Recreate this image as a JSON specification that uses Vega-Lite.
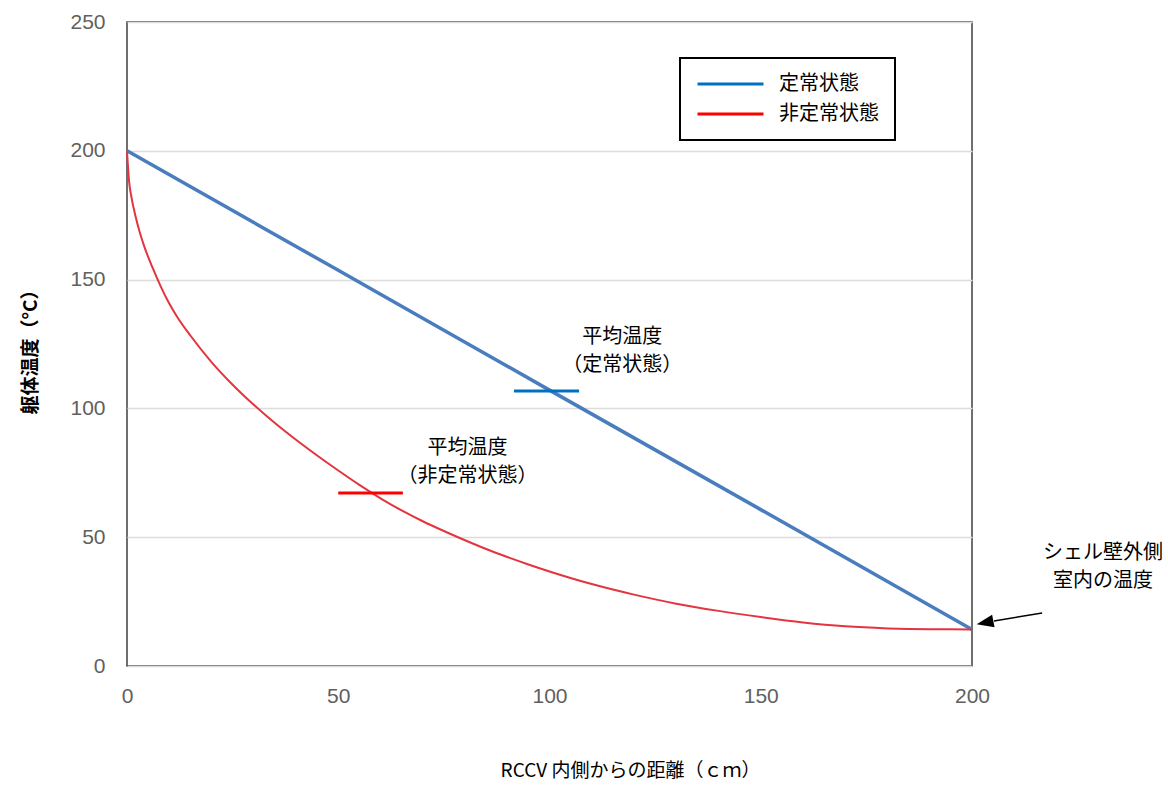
{
  "$schema": "https://vega.github.io/schema/vega-lite/v6.json",
  "width": 845,
  "height": 644,
  "autosize": {"type": "none"},
  "padding": {"left": 127, "top": 22, "right": 196, "bottom": 121},
  "background": "white",
  "config": {
    "view": {"stroke": "#404040", "strokeWidth": 1.5},
    "font": "Noto Sans CJK JP"
  },
  "datasets": {
    "curves": [
      {"series": "定常状態", "distance": 0, "temp": 200},
      {"series": "定常状態", "distance": 50, "temp": 153.6},
      {"series": "定常状態", "distance": 100, "temp": 107.1},
      {"series": "定常状態", "distance": 150, "temp": 60.7},
      {"series": "定常状態", "distance": 200, "temp": 14.2},
      {"series": "非定常状態", "distance": 0, "temp": 200},
      {"series": "非定常状態", "distance": 0.5, "temp": 188},
      {"series": "非定常状態", "distance": 1, "temp": 182.5},
      {"series": "非定常状態", "distance": 2, "temp": 174.7},
      {"series": "非定常状態", "distance": 3, "temp": 168.5},
      {"series": "非定常状態", "distance": 4, "temp": 163.3},
      {"series": "非定常状態", "distance": 6, "temp": 154.8},
      {"series": "非定常状態", "distance": 8, "temp": 147.3},
      {"series": "非定常状態", "distance": 10, "temp": 140.7},
      {"series": "非定常状態", "distance": 12, "temp": 135.2},
      {"series": "非定常状態", "distance": 15, "temp": 128.3},
      {"series": "非定常状態", "distance": 20, "temp": 118},
      {"series": "非定常状態", "distance": 25, "temp": 109.2},
      {"series": "非定常状態", "distance": 30, "temp": 101.4},
      {"series": "非定常状態", "distance": 35, "temp": 94.3},
      {"series": "非定常状態", "distance": 40, "temp": 87.8},
      {"series": "非定常状態", "distance": 45, "temp": 81.7},
      {"series": "非定常状態", "distance": 50, "temp": 75.9},
      {"series": "非定常状態", "distance": 55, "temp": 70.3},
      {"series": "非定常状態", "distance": 60, "temp": 65.1},
      {"series": "非定常状態", "distance": 65, "temp": 60.4},
      {"series": "非定常状態", "distance": 70, "temp": 56.2},
      {"series": "非定常状態", "distance": 75, "temp": 52.4},
      {"series": "非定常状態", "distance": 80, "temp": 48.8},
      {"series": "非定常状態", "distance": 85, "temp": 45.4},
      {"series": "非定常状態", "distance": 90, "temp": 42.3},
      {"series": "非定常状態", "distance": 95, "temp": 39.4},
      {"series": "非定常状態", "distance": 100, "temp": 36.7},
      {"series": "非定常状態", "distance": 110, "temp": 31.8},
      {"series": "非定常状態", "distance": 120, "temp": 27.7},
      {"series": "非定常状態", "distance": 130, "temp": 24.2},
      {"series": "非定常状態", "distance": 140, "temp": 21.4},
      {"series": "非定常状態", "distance": 150, "temp": 19.0},
      {"series": "非定常状態", "distance": 160, "temp": 16.9},
      {"series": "非定常状態", "distance": 170, "temp": 15.4},
      {"series": "非定常状態", "distance": 180, "temp": 14.6},
      {"series": "非定常状態", "distance": 190, "temp": 14.25},
      {"series": "非定常状態", "distance": 200, "temp": 14.2}
    ],
    "means": [
      {"series": "定常状態", "from": 91.6, "to": 107, "temp": 106.8},
      {"series": "非定常状態", "from": 50, "to": 65.3, "temp": 67.2}
    ],
    "notes": [
      {"x": 117.2, "y": 127.9, "label": "平均温度\n（定常状態）"},
      {"x": 80.6, "y": 84.8, "label": "平均温度\n（非定常状態）"},
      {"x": 231, "y": 43.9, "label": "シェル壁外側\n室内の温度"}
    ],
    "arrow": [
      {"x": 216.6, "y": 20.6, "x2": 205.2, "y2": 17.5}
    ],
    "arrowhead": [
      {"x": 201.1, "y": 16.2}
    ]
  },
  "layer": [
    {
      "data": {"name": "curves"},
      "mark": {"type": "line", "interpolate": "monotone"},
      "encoding": {
        "x": {
          "field": "distance", "type": "quantitative",
          "scale": {"domain": [0, 200], "nice": false},
          "axis": {
            "title": "RCCV 内側からの距離（ｃｍ）",
            "titleFont": "Noto Sans CJK JP", "titleFontSize": 19, "titleFontWeight": "normal", "titleColor": "#000",
            "titleX": 503, "titleY": 104, "titleBaseline": "middle", "titleAlign": "center",
            "values": [0, 50, 100, 150, 200],
            "grid": false, "domain": false, "ticks": false, "labelFlush": false,
            "labelFont": "Liberation Sans", "labelFontSize": 21, "labelColor": "#606060", "labelPadding": 19
          }
        },
        "y": {
          "field": "temp", "type": "quantitative",
          "scale": {"domain": [0, 250], "nice": false},
          "axis": {
            "title": "躯体温度（°C）",
            "titleFont": "Noto Sans CJK JP", "titleFontSize": 19, "titleFontWeight": "bold", "titleColor": "#000",
            "titleX": -97, "titleY": 325, "titleAngle": -90, "titleBaseline": "middle", "titleAlign": "center",
            "values": [0, 50, 100, 150, 200, 250],
            "grid": true, "gridColor": "#dcdcdc", "gridWidth": 1.5,
            "domain": false, "ticks": false, "labelFlush": false,
            "labelFont": "Liberation Sans", "labelFontSize": 21, "labelColor": "#606060", "labelPadding": 22
          }
        },
        "color": {
          "field": "series", "type": "nominal",
          "scale": {"domain": ["定常状態", "非定常状態"], "range": ["#4a7dbd", "#e3343f"]},
          "legend": null
        },
        "strokeWidth": {
          "field": "series", "type": "nominal",
          "scale": {"domain": ["定常状態", "非定常状態"], "range": [3.5, 2]},
          "legend": null
        }
      }
    },
    {
      "data": {"name": "means"},
      "mark": {"type": "rule", "strokeWidth": 3},
      "encoding": {
        "x": {"field": "from", "type": "quantitative"},
        "x2": {"field": "to"},
        "y": {"field": "temp", "type": "quantitative"},
        "color": {
          "field": "series", "type": "nominal",
          "scale": {"domain": ["定常状態", "非定常状態"], "range": ["#0070c0", "#ff0000"]},
          "legend": {
            "title": null, "orient": "none", "legendX": 553, "legendY": 36, "direction": "vertical",
            "symbolType": "stroke", "symbolSize": 4356, "symbolStrokeWidth": 3, "clipHeight": 20,
            "labelFont": "Noto Sans CJK JP", "labelFontSize": 20, "labelColor": "#000", "labelOffset": 14,
            "padding": 16, "rowPadding": 10, "strokeColor": "#000", "fillColor": "#fff",
            "encode": {"legend": {"update": {"strokeWidth": {"value": 2}}}}
          }
        }
      }
    },
    {
      "data": {"name": "notes"},
      "mark": {"type": "text", "lineBreak": "\n", "fontSize": 20, "lineHeight": 28, "align": "center", "baseline": "middle", "color": "#000", "font": "Noto Sans CJK JP"},
      "encoding": {
        "x": {"field": "x", "type": "quantitative"},
        "y": {"field": "y", "type": "quantitative"},
        "text": {"field": "label", "type": "nominal"}
      }
    },
    {
      "data": {"name": "arrow"},
      "mark": {"type": "rule", "color": "#000", "strokeWidth": 1.5},
      "encoding": {
        "x": {"field": "x", "type": "quantitative"},
        "y": {"field": "y", "type": "quantitative"},
        "x2": {"field": "x2"},
        "y2": {"field": "y2"}
      }
    },
    {
      "data": {"name": "arrowhead"},
      "mark": {"type": "point", "shape": "M0,0L2,-0.75L2,0.75Z", "size": 289, "angle": 349, "filled": true, "color": "#000", "opacity": 1},
      "encoding": {
        "x": {"field": "x", "type": "quantitative"},
        "y": {"field": "y", "type": "quantitative"}
      }
    }
  ],
  "resolve": {"scale": {"color": "independent"}}
}
